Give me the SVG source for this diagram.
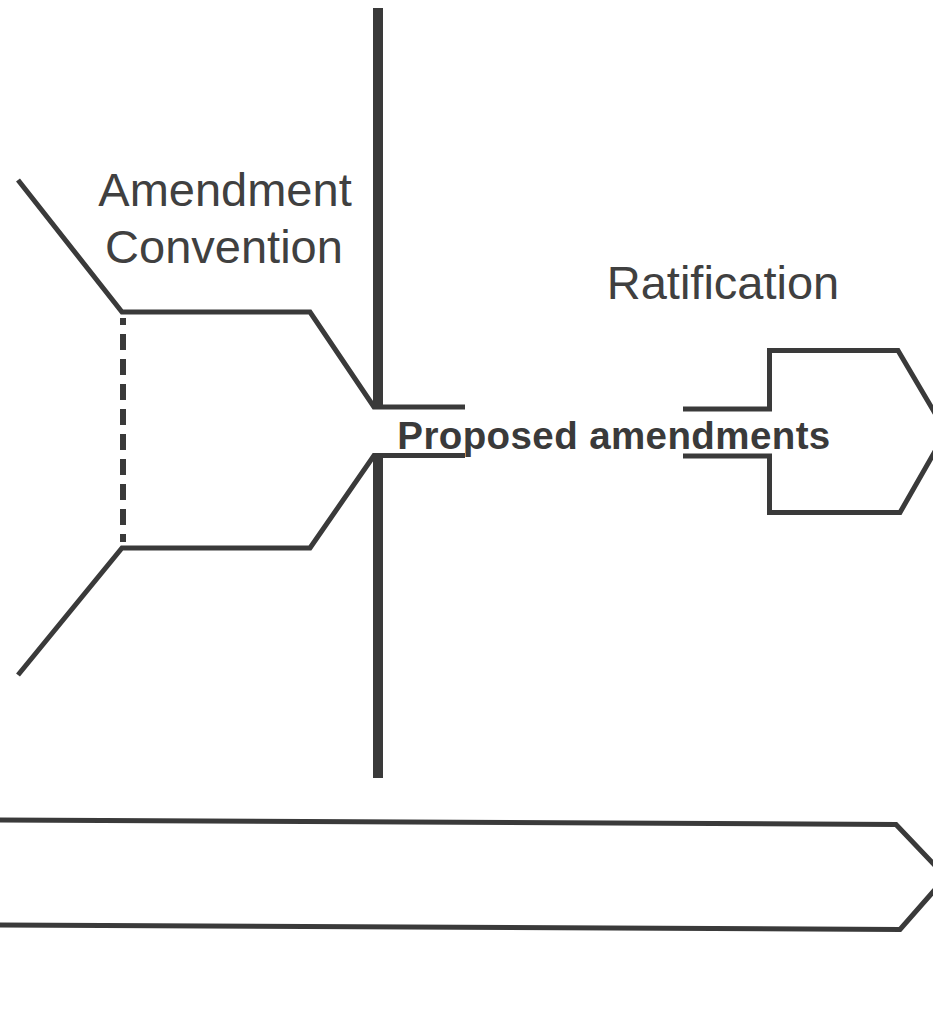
<svg xmlns="http://www.w3.org/2000/svg" width="933" height="1009" viewBox="0 0 933 1009">
  <style>
    .ln { fill: none; stroke: #3a3a3a; stroke-width: 5; stroke-linejoin: miter; stroke-linecap: butt; }
    .thick { fill: none; stroke: #3a3a3a; stroke-width: 10; stroke-linecap: butt; }
    .dash { fill: none; stroke: #3a3a3a; stroke-width: 6; stroke-dasharray: 16 9; stroke-dashoffset: 9; }
    .lbl { font-family: "Liberation Sans", Arial, Helvetica, sans-serif; font-size: 47px; fill: #404040; text-anchor: middle; }
    .bold { font-family: "Liberation Sans", Arial, Helvetica, sans-serif; font-size: 38.5px; font-weight: bold; letter-spacing: 0.4px; fill: #3a3a3a; text-anchor: middle; }
  </style>
  <rect width="933" height="1009" fill="#ffffff"/>

  <g id="amendment-convention">
    <path class="ln" d="M18,180 L122,312 L310,312 L374,407 L465,407"/>
    <path class="ln" d="M18,675 L122,548 L310,548 L374,455.5 L465,455.5"/>
    <line class="dash" x1="123" y1="318" x2="123" y2="542"/>
    <text class="lbl" x="225" y="206">Amendment</text>
    <text class="lbl" x="224" y="263">Convention</text>
  </g>

  <g id="divider">
    <line class="thick" x1="378" y1="8" x2="378" y2="409"/>
    <line class="thick" x1="378" y1="453" x2="378" y2="778"/>
  </g>

  <g id="ratification">
    <path class="ln" d="M683,409 L769.5,409 L769.5,350.5 L898,350.5 L946,432 L900,512.5 L769.5,512.5 L769.5,456 L683,456"/>
    <text class="lbl" x="723" y="299">Ratification</text>
  </g>

  <g id="connectors">
    <text class="bold" x="614" y="449">Proposed amendments</text>
  </g>

  <g id="timeline">
    <path class="ln" d="M-5,820 L896,824.5 L946,877 L900,929.5 L-5,925"/>
  </g>
</svg>
